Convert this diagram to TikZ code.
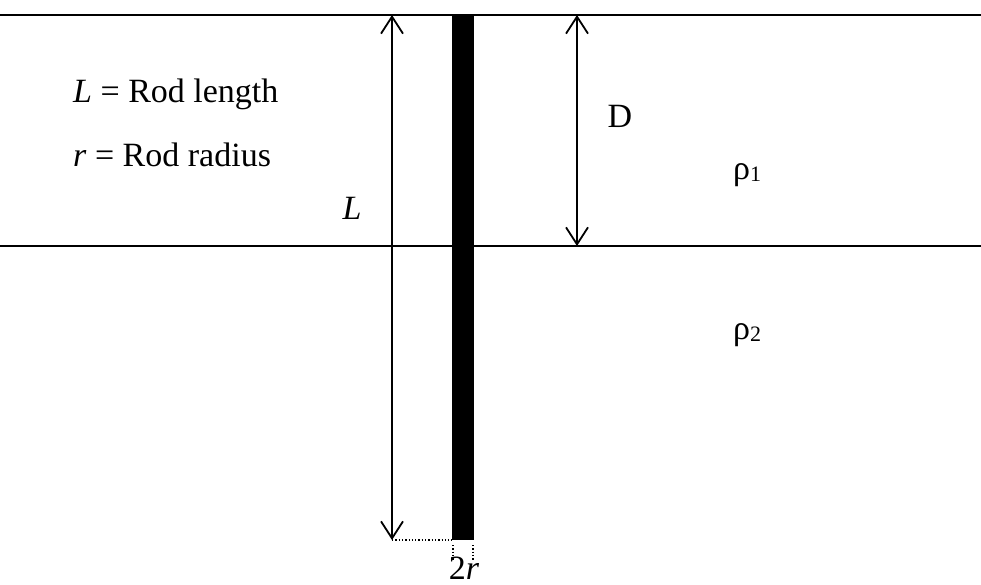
\documentclass[tikz,border=0pt]{standalone}
\usepackage{fontspec}
\setmainfont{Liberation Serif}
\usetikzlibrary{arrows.meta}
\begin{document}
\begin{tikzpicture}[x=1pt,y=-1pt,
  bound/.style={line width=1.8pt},
  dimline/.style={line width=1.5pt, {Straight Barb[length=17pt,width=22pt,line width=1.8pt]}-{Straight Barb[length=17pt,width=22pt,line width=1.8pt]}},
  lbl/.style={font=\fontsize{34}{40}\selectfont, inner sep=0pt},
  guide/.style={dotted, line width=1.3pt}]
\useasboundingbox (0,0) rectangle (981,585);
% interfaces
\coordinate (topW) at (0,15);
\coordinate (topE) at (981,15);
\coordinate (midW) at (0,246);
\coordinate (midE) at (981,246);
\draw[bound] (topW) -- (topE);
\draw[bound] (midW) -- (midE);
% rod
\fill (452,15) rectangle (474,540);
% dimension arrows
\coordinate (Ltop) at (392,15);
\coordinate (Lbot) at (392,540);
\coordinate (Dtop) at (577,15);
\coordinate (Dbot) at (577,246);
\coordinate (rodBL) at (452,540);
\draw[dimline] (Ltop) -- (Lbot);
\draw[dimline] (Dtop) -- (Dbot);
\draw[guide] (Lbot) -- (rodBL);
\coordinate (t1a) at (453,545); \coordinate (t1b) at (453,560);
\coordinate (t2a) at (473,545); \coordinate (t2b) at (473,560);
\draw[guide] (t1a) -- (t1b);
\draw[guide] (t2a) -- (t2b);
% labels
\node[lbl, anchor=base west] (lenlbl) at (73,103) {\textit{L} = Rod length};
\node[lbl, anchor=base west] (radlbl) at (73,167) {\textit{r} = Rod radius};
\node[lbl, anchor=base] (Llbl) at (352,219) {\textit{L}};
\node[lbl, anchor=base] (Dlbl) at (620,128) {D};
\node[lbl, anchor=base west] (rho1) at (733,180) {ρ\raisebox{-2pt}{\fontsize{22}{22}\selectfont 1}};
\node[lbl, anchor=base west] (rho2) at (733,339) {ρ\raisebox{-2pt}{\fontsize{22}{22}\selectfont 2}};
\node[lbl, anchor=base] (tworlbl) at (464,579) {2\textit{r}};
\end{tikzpicture}
\end{document}
